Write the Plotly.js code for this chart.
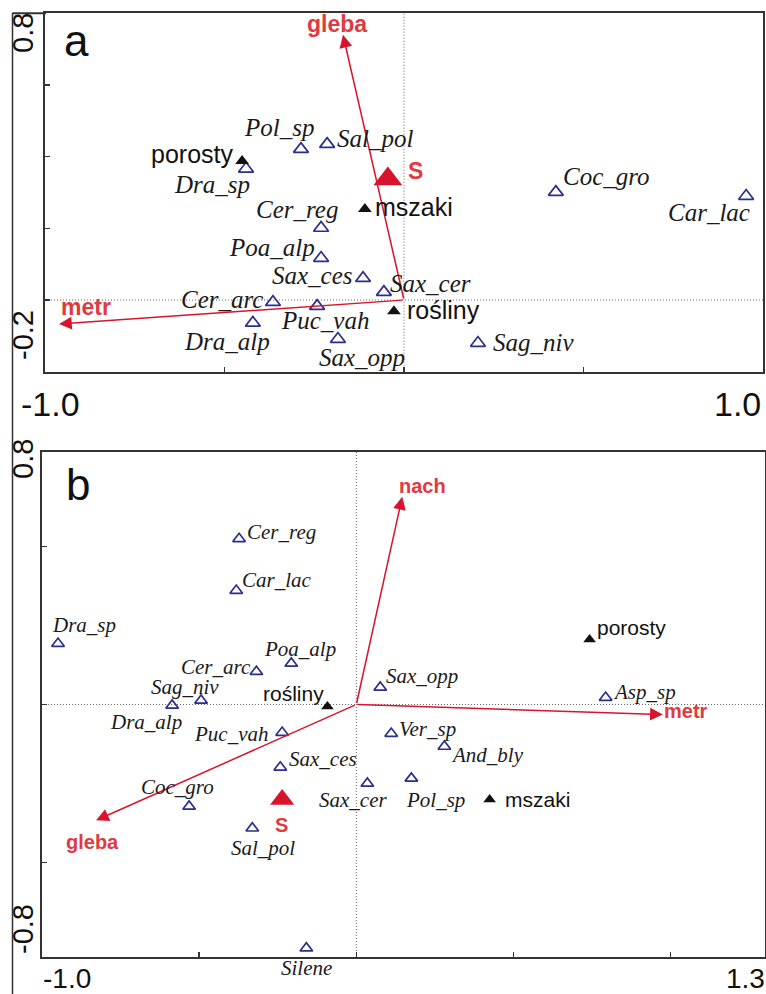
<!DOCTYPE html>
<html>
<head>
<meta charset="utf-8">
<script src="https://cdn.plot.ly/plotly-3.0.1.min.js"></script>
<style>
  html, body { margin: 0; padding: 0; background: #ffffff; }
  #chart { width: 766px; height: 994px; }
</style>
</head>
<body>
<div id="chart"></div>
<script>
// ---------- Panel a: ordination scores ----------
const aSpecies  = ['Pol_sp', 'Sal_pol', 'Dra_sp', 'Cer_reg', 'Poa_alp', 'Sax_ces', 'Sax_cer',
                   'Cer_arc', 'Puc_vah', 'Dra_alp', 'Sax_opp', 'Sag_niv', 'Coc_gro', 'Car_lac'];
const aSpeciesX = [-0.287, -0.214, -0.440, -0.231, -0.231, -0.114, -0.056,
                   -0.365, -0.242, -0.421, -0.184, 0.206, 0.423, 0.953];
const aSpeciesY = [0.421, 0.435, 0.366, 0.201, 0.117, 0.061, 0.022,
                   -0.006, -0.017, -0.064, -0.109, -0.120, 0.301, 0.290];

const aGroups  = ['porosty', 'mszaki', 'rośliny'];
const aGroupsX = [-0.451, -0.109, -0.028];
const aGroupsY = [0.388, 0.254, -0.031];

const aRich  = ['S'];
const aRichX = [-0.045];
const aRichY = [0.338];

const aEnv  = ['gleba', 'metr'];
const aEnvX = [-0.170, -0.961];
const aEnvY = [0.740, -0.067];

const aRangeX = [-1.0, 1.0];
const aRangeY = [-0.2, 0.8];
const aTickX  = [-0.5, 0, 0.5];
const aTickY  = [0, 0.2, 0.4, 0.6];

// ---------- Panel b: ordination scores ----------
const bSpecies  = ['Cer_reg', 'Car_lac', 'Dra_sp', 'Poa_alp', 'Cer_arc', 'Sag_niv', 'Dra_alp',
                   'Puc_vah', 'Sax_ces', 'Sax_cer', 'Sax_opp', 'Ver_sp', 'Coc_gro', 'Sal_pol',
                   'Silene', 'Asp_sp', 'And_bly', 'Pol_sp'];
const bSpeciesX = [-0.373, -0.382, -0.949, -0.207, -0.318, -0.494, -0.586,
                   -0.236, -0.242, 0.035, 0.076, 0.111, -0.532, -0.331,
                   -0.159, 0.793, 0.280, 0.175];
const bSpeciesY = [0.525, 0.361, 0.193, 0.130, 0.104, 0.013, -0.003,
                   -0.089, -0.199, -0.250, 0.054, -0.092, -0.323, -0.392,
                   -0.772, 0.022, -0.133, -0.234];

const bGroups  = ['rośliny', 'porosty', 'mszaki'];
const bGroupsX = [-0.092, 0.742, 0.424];
const bGroupsY = [-0.006, 0.206, -0.301];

const bRich  = ['S'];
const bRichX = [-0.236];
const bRichY = [-0.301];

const bEnv  = ['gleba', 'nach', 'metr'];
const bEnvX = [-0.828, 0.146, 0.975];
const bEnvY = [-0.367, 0.658, -0.032];

const bRangeX = [-1.0, 1.3];
const bRangeY = [-0.8, 0.8];
const bTickX  = [-0.5, 0, 0.5, 1.0];
const bTickY  = [-0.5, 0, 0.5];

// ---------- label placement: [xanchor, dx px, dy px (down)] ----------
const placeA = {
  'Pol_sp': ['center', -22, -22], 'Sal_pol': ['left', 10, -6], 'Dra_sp': ['right', 4, 16],
  'Cer_reg': ['center', -24, -18], 'Poa_alp': ['right', -6, -11], 'Sax_ces': ['right', -10, -3],
  'Sax_cer': ['left', 6, -9], 'Cer_arc': ['right', -10, -3], 'Puc_vah': ['center', 8, 14],
  'Dra_alp': ['center', -26, 19], 'Sax_opp': ['center', 24, 18], 'Sag_niv': ['left', 15, -1],
  'Coc_gro': ['left', 7, -16], 'Car_lac': ['right', 4, 16],
  'porosty': ['right', -9, -7], 'mszaki': ['left', 10, -2], 'rośliny': ['left', 13, -1],
  'S': ['left', 20, -8], 'gleba': ['center', -6, -11], 'metr': ['center', 27, -17]
};
const placeB = {
  'Cer_reg': ['left', 8, -7], 'Car_lac': ['left', 6, -11], 'Dra_sp': ['center', 26, -19],
  'Poa_alp': ['center', 9, -14], 'Cer_arc': ['right', -5, -5], 'Sag_niv': ['center', -16, -13],
  'Dra_alp': ['center', -26, 17], 'Puc_vah': ['right', -14, 1], 'Sax_ces': ['left', 9, -8],
  'Sax_cer': ['center', -14, 17], 'Sax_opp': ['left', 6, -11], 'Ver_sp': ['left', 8, -5],
  'Coc_gro': ['center', -12, -19], 'Sal_pol': ['center', 11, 20], 'Silene': ['center', 0, 20],
  'Asp_sp': ['left', 7, -6], 'And_bly': ['left', 7, 9], 'Pol_sp': ['center', 24, 22],
  'rośliny': ['right', -3, -13], 'porosty': ['left', 7, -12], 'mszaki': ['left', 15, 0],
  'S': ['center', -1, 25], 'gleba': ['center', -4, 22], 'nach': ['center', 20, -11], 'metr': ['left', 1, -4]
};

// ---------- styles ----------
const W = 766, H = 994;
const BLUE = '#2b2e8c';
const RED = '#d8142c';
const RED_TXT = '#e0393f';
const FRAME = '#333333';
const SANS = 'Liberation Sans, Arial, sans-serif';
const SERIF = 'Liberation Serif, Times New Roman, serif';

function px(x) { return x / W; }
function py(y) { return 1 - y / H; }

function pointLabels(names, xs, ys, place, xr, yr, font) {
  return names.map((n, i) => {
    const p = place[n];
    return {
      xref: xr, yref: yr, x: xs[i], y: ys[i], text: n, showarrow: false,
      xanchor: p[0], yanchor: 'middle', xshift: p[1], yshift: -p[2],
      borderpad: 0, borderwidth: 0, font: font
    };
  });
}

function arrows(xs, ys, xr, yr) {
  return xs.map((x, i) => ({
    xref: xr, yref: yr, axref: xr, ayref: yr,
    x: x, y: ys[i], ax: 0, ay: 0, text: '', showarrow: true,
    arrowhead: 2, arrowsize: 1.7, arrowwidth: 1.5, arrowcolor: RED, standoff: 0
  }));
}

function axisText(text, cx, cy, size, angle) {
  return {
    xref: 'paper', yref: 'paper', x: px(cx), y: py(cy), text: text, showarrow: false,
    xanchor: 'center', yanchor: 'middle', textangle: angle || 0, borderpad: 0,
    font: { family: SANS, size: size, color: '#111' }
  };
}

const fmt = v => v.toFixed(1);

// ---------- traces ----------
function panelTraces(sx, sy, gx, gy, rx, ry, xa, ya, sizes) {
  return [
    { type: 'scatter', mode: 'markers', x: sx, y: sy, xaxis: xa, yaxis: ya,
      marker: { symbol: 'triangle-up-open', size: sizes[0], color: BLUE, line: { width: 1.7, color: BLUE } },
      hoverinfo: 'skip' },
    { type: 'scatter', mode: 'markers', x: gx, y: gy, xaxis: xa, yaxis: ya,
      marker: { symbol: 'triangle-up', size: sizes[1], color: '#111111' }, hoverinfo: 'skip' },
    { type: 'scatter', mode: 'markers', x: rx, y: ry, xaxis: xa, yaxis: ya,
      marker: { symbol: 'triangle-up', size: sizes[2], color: RED }, hoverinfo: 'skip' }
  ];
}

const traces = [].concat(
  panelTraces(aSpeciesX, aSpeciesY, aGroupsX, aGroupsY, aRichX, aRichY, 'x', 'y', [13, 12, 25]),
  panelTraces(bSpeciesX, bSpeciesY, bGroupsX, bGroupsY, bRichX, bRichY, 'x2', 'y2', [11, 11, 21])
);

// ---------- axes ----------
function axis(range, ticks, domain) {
  return {
    range: range, domain: domain, showgrid: false, zeroline: false,
    showline: true, mirror: true, linecolor: FRAME, linewidth: 2,
    ticks: 'inside', tickvals: ticks, ticklen: 5, tickwidth: 1.5, tickcolor: FRAME,
    showticklabels: false, fixedrange: true
  };
}

// ---------- annotations ----------
const italicA = { family: SERIF, size: 25, color: '#1a1a1a', style: 'italic' };
const italicB = { family: SERIF, size: 21, color: '#1a1a1a', style: 'italic' };
const blackA = { family: SANS, size: 25, color: '#111111' };
const blackB = { family: SANS, size: 21, color: '#111111' };
const redA = { family: SANS, size: 23, color: RED_TXT, weight: 'bold' };
const redB = { family: SANS, size: 20, color: RED_TXT, weight: 'bold' };

const annotations = [].concat(
  arrows(aEnvX, aEnvY, 'x', 'y'),
  arrows(bEnvX, bEnvY, 'x2', 'y2'),
  pointLabels(aSpecies, aSpeciesX, aSpeciesY, placeA, 'x', 'y', italicA),
  pointLabels(aGroups, aGroupsX, aGroupsY, placeA, 'x', 'y', blackA),
  pointLabels(aRich, aRichX, aRichY, placeA, 'x', 'y', redA),
  pointLabels(aEnv, aEnvX, aEnvY, placeA, 'x', 'y', redA),
  pointLabels(bSpecies, bSpeciesX, bSpeciesY, placeB, 'x2', 'y2', italicB),
  pointLabels(bGroups, bGroupsX, bGroupsY, placeB, 'x2', 'y2', blackB),
  pointLabels(bRich, bRichX, bRichY, placeB, 'x2', 'y2', redB),
  pointLabels(bEnv, bEnvX, bEnvY, placeB, 'x2', 'y2', redB),
  [
    // axis end values
    axisText(fmt(aRangeX[0]), 50, 404, 34),
    axisText(fmt(aRangeX[1]), 737, 404, 34),
    axisText(fmt(aRangeY[1]), 23, 33, 29, -90),
    axisText(fmt(aRangeY[0]), 23, 335, 29, -90),
    axisText(fmt(bRangeX[0]), 67, 978, 28),
    axisText(fmt(bRangeX[1]), 745, 978, 28),
    axisText(fmt(bRangeY[1]), 23, 459, 29, -90),
    axisText(fmt(bRangeY[0]), 23, 929, 29, -90),
    // panel letters
    axisText('a', 76, 40, 44),
    axisText('b', 78, 485, 44)
  ]
);

// ---------- shapes: zero lines and outer frame ----------
const dotted = { color: '#666666', width: 1, dash: '1px,2px' };
const shapes = [
  { type: 'line', xref: 'x', yref: 'y domain', x0: 0, x1: 0, y0: 0, y1: 1, line: dotted, layer: 'below' },
  { type: 'line', xref: 'x domain', yref: 'y', x0: 0, x1: 1, y0: 0, y1: 0, line: dotted, layer: 'below' },
  { type: 'line', xref: 'x2', yref: 'y2 domain', x0: 0, x1: 0, y0: 0, y1: 1, line: dotted, layer: 'below' },
  { type: 'line', xref: 'x2 domain', yref: 'y2', x0: 0, x1: 1, y0: 0, y1: 0, line: dotted, layer: 'below' },
  { type: 'line', xref: 'paper', yref: 'paper', x0: px(12.5), x1: px(12.5), y0: py(13), y1: 0,
    line: { color: FRAME, width: 1.5 } },
  { type: 'line', xref: 'paper', yref: 'paper', x0: px(12.5), x1: px(46), y0: py(13.3), y1: py(13.3),
    line: { color: FRAME, width: 2 } }
];

const layout = {
  width: W, height: H,
  margin: { l: 0, r: 0, t: 0, b: 0, pad: 0 },
  paper_bgcolor: '#ffffff', plot_bgcolor: '#ffffff',
  showlegend: false, hovermode: false,
  xaxis:  axis(aRangeX, aTickX, [px(45), px(763)]),
  yaxis:  Object.assign(axis(aRangeY, aTickY, [py(371.7), py(13.3)]), { anchor: 'x' }),
  xaxis2: Object.assign(axis(bRangeX, bTickX, [px(42), px(765)]), { anchor: 'y2' }),
  yaxis2: Object.assign(axis(bRangeY, bTickY, [py(957), py(452)]), { anchor: 'x2' }),
  annotations: annotations,
  shapes: shapes
};
layout.xaxis.anchor = 'y';

Plotly.newPlot('chart', traces, layout, { staticPlot: true, displayModeBar: false });
</script>
</body>
</html>
